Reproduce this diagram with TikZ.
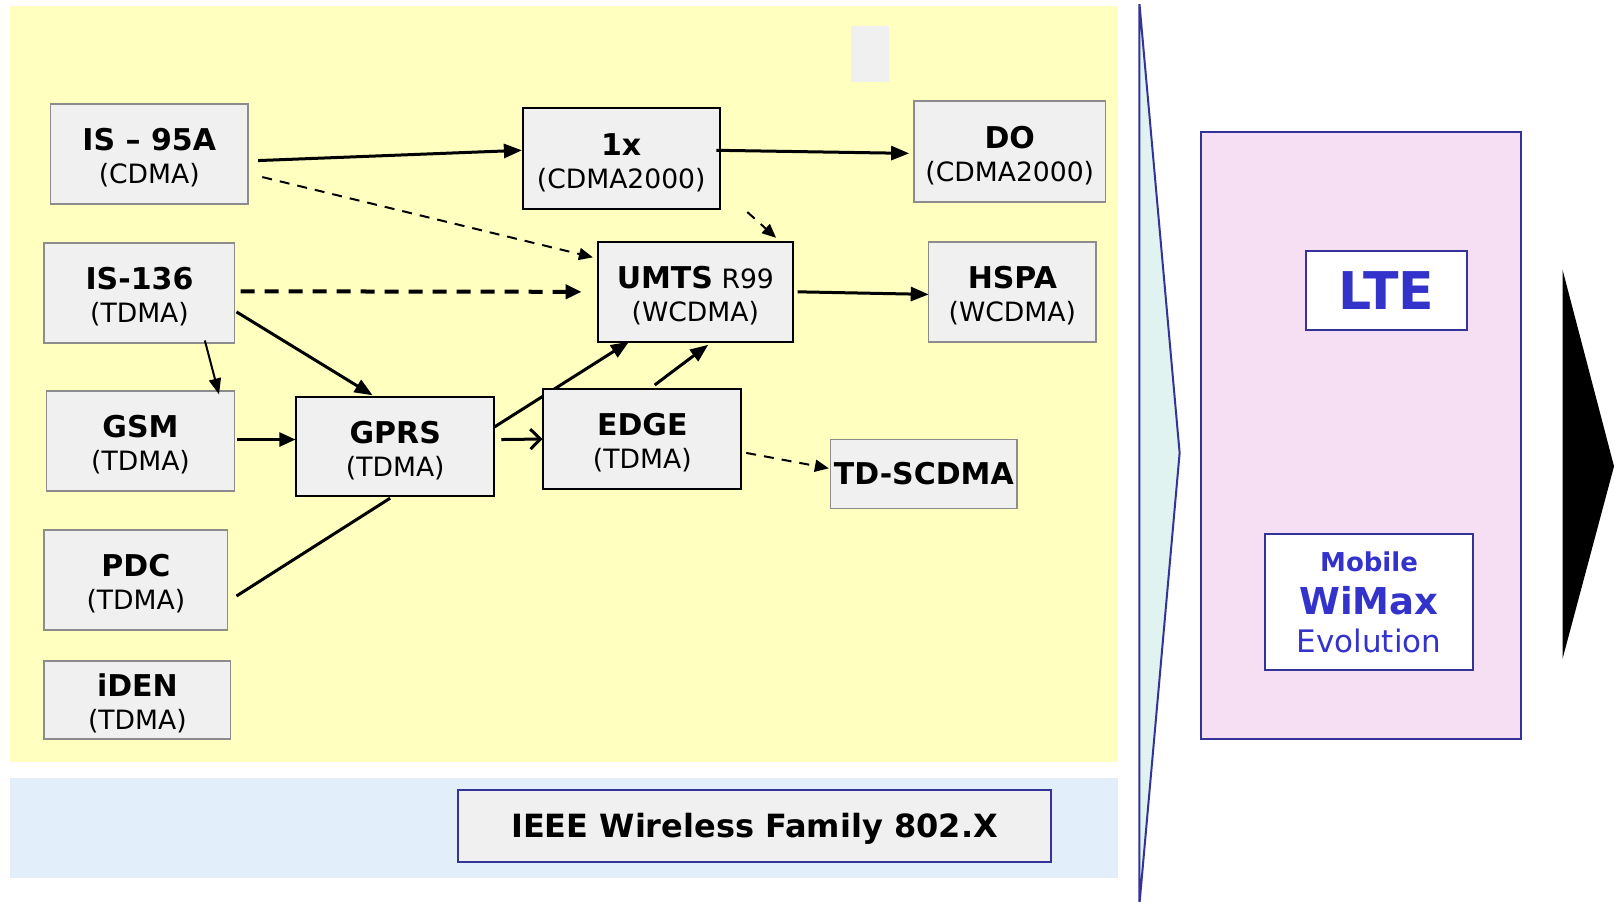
\documentclass[tikz,border=0pt]{standalone}
\usepackage{fontspec}
\setmainfont{DejaVu Sans}
\usetikzlibrary{arrows.meta,calc}
\newlength\pu
\setlength\pu{0.5146pt}
\definecolor{paleyellow}{HTML}{FFFFC0}
\definecolor{paleblue}{HTML}{E3EEFB}
\definecolor{boxgray}{HTML}{F0F0F0}
\definecolor{edgegray}{HTML}{8C8C8C}
\definecolor{navy}{HTML}{333399}
\definecolor{textblue}{HTML}{3333CC}
\definecolor{palecyan}{HTML}{E0F3F1}
\definecolor{palepink}{HTML}{F7DFF3}
\tikzset{
  gbox/.style={draw=edgegray, line width=0.8pt, fill=boxgray, align=center,
    inner sep=0pt, font=\fontsize{13.3}{16.5}\selectfont},
  kbox/.style={gbox, draw=black, line width=1pt},
  ttl/.style={font=\fontsize{15}{16.5}\selectfont\bfseries},
  solidarrow/.style={line width=1.5pt, -{Triangle[length=9pt,width=7pt]}},
  thinarrow/.style={line width=1pt, -{Triangle[length=8pt,width=6pt]}},
  dasharrow/.style={line width=1pt, dash pattern=on 5pt off 4pt,
    -{Triangle[length=7pt,width=6pt]}},
  bigdasharrow/.style={line width=2pt, dash pattern=on 7pt off 5pt,
    -{Triangle[length=8pt,width=7pt]}},
}
% two-line box text: bold name over regular family, nudged down a little
\newcommand{\tw}[2]{\rule{0pt}{15pt}{\fontsize{15}{16.5}\selectfont\bfseries #1}\\#2}
\begin{document}
\begin{tikzpicture}[x=0.5146pt, y=-0.5146pt]
\useasboundingbox (0,0) rectangle (1568,876);
\fill[white] (0,0) rectangle (1568,876);

% background bands
\fill[paleyellow] (10,6) rectangle (1086,740);
\fill[paleblue] (10,756) rectangle (1086,853);
\fill[boxgray] (827,25) rectangle (864,80);

% chevron and black pointer
\draw[navy, fill=palecyan, line width=1pt] (1107,4) -- (1146,440) -- (1107,878) -- cycle;
\fill[black] (1518,262) -- (1568,453) -- (1518,640) -- cycle;

% right-hand panel
\draw[navy, fill=palepink, line width=1pt] (1167,128) rectangle (1478,718);
\node[draw=navy, line width=1pt, fill=white, minimum width=156\pu, minimum height=77\pu,
  inner sep=0pt, text=textblue, font=\fontsize{26}{28}\selectfont\bfseries]
  (lte) at (1347,282.5) {LTE};
\node[draw=navy, line width=1pt, fill=white, minimum width=202\pu, minimum height=132\pu,
  inner sep=0pt, text=textblue, align=center, font=\fontsize{13}{20}\selectfont]
  (wimax) at (1330,585)
  {{\bfseries Mobile}\\[1.6pt]
   {\fontsize{18.5}{20}\selectfont\bfseries WiMax}\\[-1pt]
   {\fontsize{15.5}{18}\selectfont Evolution}};

% connectors drawn beneath the boxes
\coordinate (gprsout) at (480,415);
\coordinate (umtsin) at (611,332);
\draw[solidarrow] (gprsout) -- (umtsin);

% technology boxes
\node[gbox, minimum width=192\pu, minimum height=97\pu] (is95) at (145,149.5) {\tw{IS -- 95A}{(CDMA)}};
\node[kbox, minimum width=191\pu, minimum height=98\pu] (onex) at (603.5,154) {\tw{1x}{(CDMA2000)}};
\node[gbox, minimum width=186\pu, minimum height=98\pu] (do) at (981,147) {\tw{DO}{(CDMA2000)}};
\node[gbox, minimum width=185\pu, minimum height=97\pu] (is136) at (135.5,284.5) {\tw{IS-136}{(TDMA)}};
\node[kbox, minimum width=189\pu, minimum height=97\pu] (umts) at (675.5,283.5)
  {\rule{0pt}{15pt}{\fontsize{15}{16.5}\selectfont\bfseries UMTS} R99\\(WCDMA)};
\node[gbox, minimum width=163\pu, minimum height=97\pu] (hspa) at (983.5,283.5) {\tw{HSPA}{(WCDMA)}};
\node[gbox, minimum width=183\pu, minimum height=97\pu] (gsm) at (136.5,428.5) {\tw{GSM}{(TDMA)}};
\node[kbox, minimum width=192\pu, minimum height=96\pu] (gprs) at (384,434) {\tw{GPRS}{(TDMA)}};
\node[kbox, minimum width=192\pu, minimum height=97\pu] (edge) at (624,426.5) {\tw{EDGE}{(TDMA)}};
\node[gbox, minimum width=181\pu, minimum height=67\pu, ttl] (tds) at (897.5,460.5) {TD-SCDMA};
\node[gbox, minimum width=178\pu, minimum height=97\pu] (pdc) at (132,563.5) {\tw{PDC}{(TDMA)}};
\node[gbox, minimum width=181\pu, minimum height=76\pu] (iden) at (133.5,680) {\tw{iDEN}{(TDMA)}};
\node[gbox, draw=navy, line width=1pt, minimum width=576\pu, minimum height=70\pu,
  font=\fontsize{16}{18}\selectfont\bfseries]
  (ieee) at (733,802) {\rule{0pt}{15pt}IEEE Wireless Family 802.X};

% connectors
\draw[solidarrow] ($(is95.east)+(9,6.5)$) -- ($(onex.west)+(0,-8)$);
\draw[dasharrow] ($(is95.east)+(13,22.5)$) -- ($(umts.west)+(-4,-33.5)$);
\draw[solidarrow] ($(onex.east)+(-4,-8)$) -- ($(do.west)+(-4,2)$);
\draw[dasharrow] ($(onex.south east)+(26,2)$) -- ($(umts.north east)+(-17,-3)$);
\draw[bigdasharrow] ($(is136.east)+(5,-1.5)$) -- ($(umts.west)+(-15,0)$);
\draw[solidarrow] ($(is136.east)+(1,18.5)$) -- ($(gprs.north)+(-22,-1)$);
\draw[thinarrow] ($(is136.south)+(63.5,-3)$) -- ($(gsm.north east)+(-16,4)$);
\draw[solidarrow] ($(umts.east)+(4,0)$) -- ($(hspa.west)+(1,2.5)$);
\draw[line width=1.2pt, -{Triangle[length=8pt,width=7pt]}] ($(gsm.east)+(1,-1.5)$) -- ($(gprs.west)+(0,-7)$);
\draw[line width=1.5pt, -{Straight Barb[length=5pt,width=10pt]}] ($(gprs.east)+(6,-7)$) -- (edge.west);
\draw[solidarrow] ($(edge.north)+(12,-3)$) -- ($(umts.south)+(12.5,2)$);
\draw[dasharrow] ($(edge.east)+(4,13.5)$) -- ($(tds.west)+(-1,-5.5)$);
\draw[line width=1.5pt] ($(pdc.east)+(8,15.5)$) -- ($(gprs.south)+(-5,1)$);
\end{tikzpicture}
\end{document}
